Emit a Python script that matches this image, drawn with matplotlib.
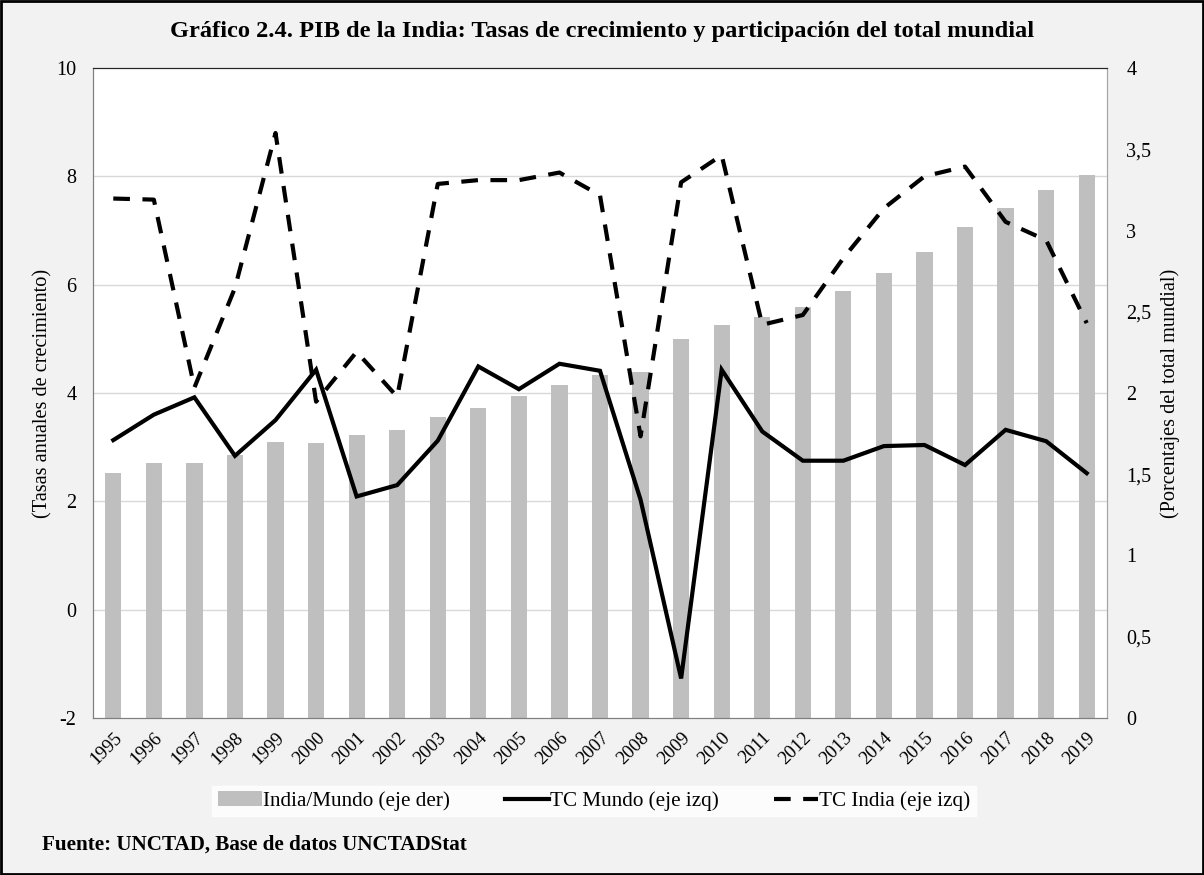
import matplotlib
matplotlib.use("Agg")
import matplotlib.pyplot as plt
from matplotlib.ticker import FixedLocator, FixedFormatter
import numpy as np

years = [str(y) for y in range(1995, 2020)]
india_mundo = [1.51, 1.57, 1.57, 1.62, 1.70, 1.69, 1.74, 1.77, 1.85, 1.91,
               1.98, 2.05, 2.11, 2.13, 2.33, 2.42, 2.47, 2.53, 2.63, 2.74,
               2.87, 3.02, 3.14, 3.25, 3.34]
tc_mundo = [3.13, 3.60, 3.92, 2.84, 3.50, 4.43, 2.09, 2.30, 3.12, 4.49,
            4.07, 4.54, 4.41, 2.03, -1.27, 4.43, 3.29, 2.75, 2.75, 3.02,
            3.04, 2.67, 3.32, 3.11, 2.52]
tc_india = [7.59, 7.57, 4.10, 5.94, 8.80, 3.84, 4.76, 3.93, 7.86, 7.93,
            7.93, 8.07, 7.65, 3.20, 7.89, 8.39, 5.26, 5.44, 6.49, 7.41,
            8.00, 8.18, 7.16, 6.82, 5.29]

left_ticks = [-2, 0, 2, 4, 6, 8, 10]
right_ticks = [0, 0.5, 1, 1.5, 2, 2.5, 3, 3.5, 4]
right_labels = ["0", "0,5", "1", "1,5", "2", "2,5", "3", "3,5", "4"]

plt.rcParams['font.family'] = ['Liberation Serif', 'DejaVu Serif']
plt.rcParams['axes.unicode_minus'] = False

fig = plt.figure(figsize=(12.04, 8.75), dpi=100, facecolor='#f2f2f2')
ax = fig.add_axes([93/1204, 1-718/875, (1107-93)/1204, (718-68)/875])
ax.set_facecolor('white')
ax2 = ax.twinx()

x = np.arange(len(years))
ax2.bar(x, india_mundo, width=0.4, color='#bfbfbf', zorder=1,
        label='India/Mundo (eje der)')
ax2.set_ylim(0, 4)

ax.set_zorder(ax2.get_zorder() + 1)
ax.patch.set_visible(False)
ax2.patch.set_visible(True)
ax2.patch.set_facecolor('white')

l1, = ax.plot(x, tc_mundo, color='black', lw=3.0, solid_joinstyle='miter',
              label='TC Mundo (eje izq)')
l2, = ax.plot(x, tc_india, color='black', lw=3.0, dashes=(4, 3),
              label='TC India (eje izq)')

ax.set_ylim(-2, 10)
ax.set_xlim(-0.5, len(years) - 0.5)
ax.yaxis.set_major_locator(FixedLocator(left_ticks))
ax2.yaxis.set_major_locator(FixedLocator(right_ticks))
ax2.yaxis.set_major_formatter(FixedFormatter(right_labels))

for yv in left_ticks[1:-1]:
    ax2.axhline((yv + 2) / 3, color='#d9d9d9', lw=1, zorder=0)

ax.set_xticks(x)
ax.set_xticklabels(years, rotation=45, ha='right', rotation_mode='anchor',
                   fontsize=13.5)
ax.tick_params(axis='x', length=0, pad=8)
ax.tick_params(axis='y', length=0, labelsize=14.5, pad=12)
ax2.tick_params(axis='y', length=0, labelsize=14.5, pad=14)
ax2.tick_params(axis='x', length=0)

for a in (ax, ax2):
    a.spines['top'].set_color('#262626')
    a.spines['left'].set_color('#7f7f7f')
    a.spines['right'].set_color('#a6a6a6')
    a.spines['bottom'].set_color('#7f7f7f')

ax.set_ylabel('(Tasas anuales de crecimiento)', fontsize=14.6, labelpad=3)
ax2.set_ylabel('(Porcentajes del total mundial)', fontsize=14.6, rotation=90,
               labelpad=6)

fig.text(0.5, 1 - 31/875, 'Gráfico 2.4. PIB de la India: Tasas de crecimiento y participación del total mundial',
         ha='center', va='center', fontsize=17.6, fontweight='bold')
fig.text(42/1204, 1 - 845/875, 'Fuente: UNCTAD, Base de datos UNCTADStat',
         ha='left', va='center', fontsize=15.2, fontweight='bold')

handles = [ax2.containers[0], l1, l2]
leg = fig.legend(handles, [h.get_label() for h in handles], loc='center',
                 bbox_to_anchor=(594/1204, 1 - 801/875), ncol=3, frameon=True,
                 fancybox=False, edgecolor='white', facecolor='white',
                 fontsize=15.2, handlelength=2.1, handletextpad=0.05,
                 columnspacing=2.6, borderpad=0.25)

fig.add_artist(plt.Rectangle((0.001, 0.001), 0.998, 0.998, transform=fig.transFigure,
                             fill=False, edgecolor='black', lw=2))

fig.savefig('out.png', dpi=100, facecolor=fig.get_facecolor())
